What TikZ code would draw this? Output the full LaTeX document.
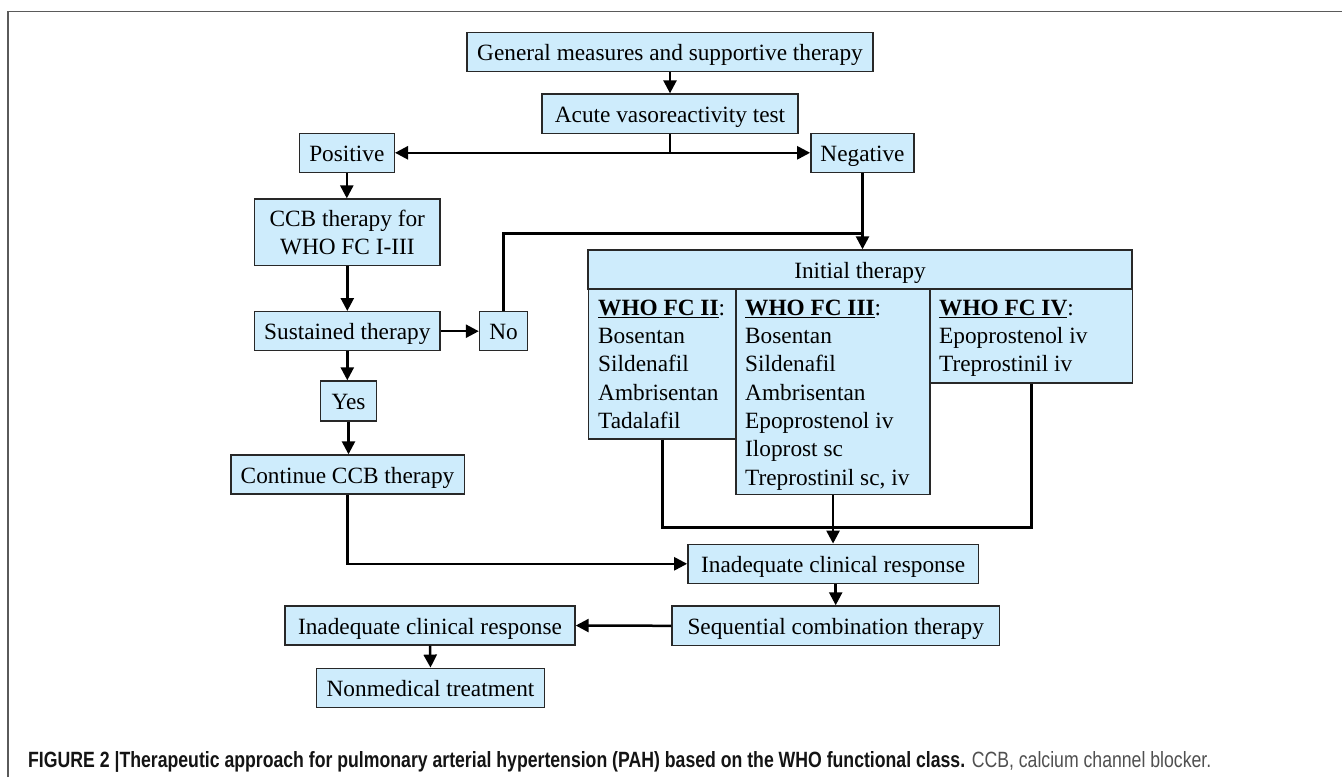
\documentclass[tikz,border=0pt]{standalone}
\usepackage{graphicx}
\usepackage{fontspec}
\setmainfont{Liberation Serif}
\newfontfamily\capfont[FakeStretch=0.8]{Liberation Sans}
\usetikzlibrary{arrows.meta}
\definecolor{boxblue}{RGB}{206,236,252}
\definecolor{edgegray}{RGB}{40,40,40}
\definecolor{framegray}{RGB}{90,90,90}
\definecolor{capgray}{RGB}{80,80,80}
\definecolor{capdark}{RGB}{20,20,20}
\begin{document}
\begin{tikzpicture}[x=1pt,y=-1pt,
  boxbase/.style={draw=edgegray, fill=boxblue, line width=1.4pt, inner sep=0pt, font=\fontsize{23.3}{28.3}\selectfont},
  box/.style={boxbase, text height=20pt, text depth=3pt},
  cell/.style={draw=edgegray, fill=boxblue, line width=1.4pt, inner sep=0pt, anchor=north west},
  list/.style={inner sep=0pt, anchor=north west, align=left, font=\fontsize{23.3}{28.3}\selectfont},
  conn/.style={line width=2.5pt, black},
  arr/.style={conn, -{Triangle[length=13pt,width=13pt]}},
]
\useasboundingbox (0,0) rectangle (1342,777);
\fill[white] (0,0) rectangle (1342,777);
\draw[framegray, line width=1.3pt] (8,777) -- (8,11.7) -- (1342,11.7);

% boxes
\node[box, minimum width=406pt, minimum height=39pt] (gen) at (670,52.2) {General measures and supportive therapy};
\node[box, minimum width=256.3pt, minimum height=39.3pt] (acute) at (670,113.7) {Acute vasoreactivity test};
\node[box, minimum width=95pt, minimum height=39pt] (pos) at (346.8,152.8) {Positive};
\node[box, minimum width=103.3pt, minimum height=39pt] (neg) at (862.5,152.8) {Negative};
\node[boxbase, minimum width=185.5pt, minimum height=66.7pt, align=center] (ccb) at (347.3,232.4) {CCB therapy for\\WHO FC I-III};
\node[box, minimum width=185.5pt, minimum height=39pt] (sus) at (347.3,331.2) {Sustained therapy};
\node[box, minimum width=48pt, minimum height=39pt] (no) at (503.5,331.2) {No};
\node[box, minimum width=56.4pt, minimum height=40pt] (yes) at (348.5,401) {Yes};
\node[box, minimum width=233.4pt, minimum height=39pt] (cont) at (347.5,474.5) {Continue CCB therapy};

\node[box, minimum width=544pt, minimum height=39pt] (init) at (860,269.5) {Initial therapy};
\node[cell, minimum width=147.4pt, minimum height=149.3pt] (c1) at (588,289) {};
\node[cell, minimum width=202.7pt, minimum height=93.3pt] (c3) at (929.3,289) {};
\node[cell, minimum width=193.9pt, minimum height=205pt] (c2) at (735.4,289) {};
\node[list] (l1) at (598,295) {\rule{0pt}{20pt}\underline{\textbf{WHO FC II}}:\\Bosentan\\Sildenafil\\Ambrisentan\\Tadalafil};
\node[list] (l2) at (745,295) {\rule{0pt}{20pt}\underline{\textbf{WHO FC III}}:\\Bosentan\\Sildenafil\\Ambrisentan\\Epoprostenol iv\\Iloprost sc\\Treprostinil sc, iv};
\node[list] (l3) at (939,295) {\rule{0pt}{20pt}\underline{\textbf{WHO FC IV}}:\\Epoprostenol iv\\Treprostinil iv};

\node[box, minimum width=290.7pt, minimum height=39pt] (ic1) at (833.2,563.8) {Inadequate clinical response};
\node[box, minimum width=327.3pt, minimum height=39.7pt] (seq) at (835.7,625.8) {Sequential combination therapy};
\node[box, minimum width=290pt, minimum height=39pt] (ic2) at (430,625.5) {Inadequate clinical response};
\node[box, minimum width=227.6pt, minimum height=39pt] (nm) at (430.5,687.8) {Nonmedical treatment};

% caption
\node[anchor=base west, inner sep=0pt] (cap) at (28,767.5) {\resizebox{1183pt}{!}{\capfont\fontsize{16}{18}\selectfont\textcolor{capdark}{\textbf{FIGURE 2 |Therapeutic approach for pulmonary arterial hypertension (PAH) based on the WHO functional class.}} \textcolor{capgray}{CCB, calcium channel blocker.}}};

% connectors
\coordinate (j1) at (acute.south |- pos.east);
\draw[conn] (acute.south) -- (j1);
\draw[arr] (j1) -- (pos.east);
\draw[arr] (j1) -- (neg.west);
\draw[arr] (gen.south) -- (gen.south |- acute.north);
\draw[arr] (pos.south) -- (pos.south |- ccb.north);
\draw[arr] (ccb.south) -- (sus.north);
\draw[arr] (sus.east) -- (no.west);
\draw[arr] (sus.south) -- (sus.south |- yes.north);
\draw[arr] (yes.south) -- (yes.south |- cont.north);
\coordinate (hy) at (503.5,233.3);
\draw[conn] (no.north) -- (no.north |- hy) -- (neg.south |- hy);
\draw[arr] (neg.south) -- (neg.south |- init.north);
\coordinate (my) at (662,527.7);
\draw[conn] (c1.south) -- (c1.south |- my) -- (c3.south |- my) -- (c3.south);
\draw[arr] (c2.south) -- (c2.south |- ic1.north);
\draw[arr] (cont.south) |- (ic1.west);
\draw[arr] (seq.north |- ic1.south) -- (seq.north);
\draw[arr] (seq.west) -- (ic2.east);
\draw[arr] (ic2.south) -- (nm.north);
\end{tikzpicture}
\end{document}
